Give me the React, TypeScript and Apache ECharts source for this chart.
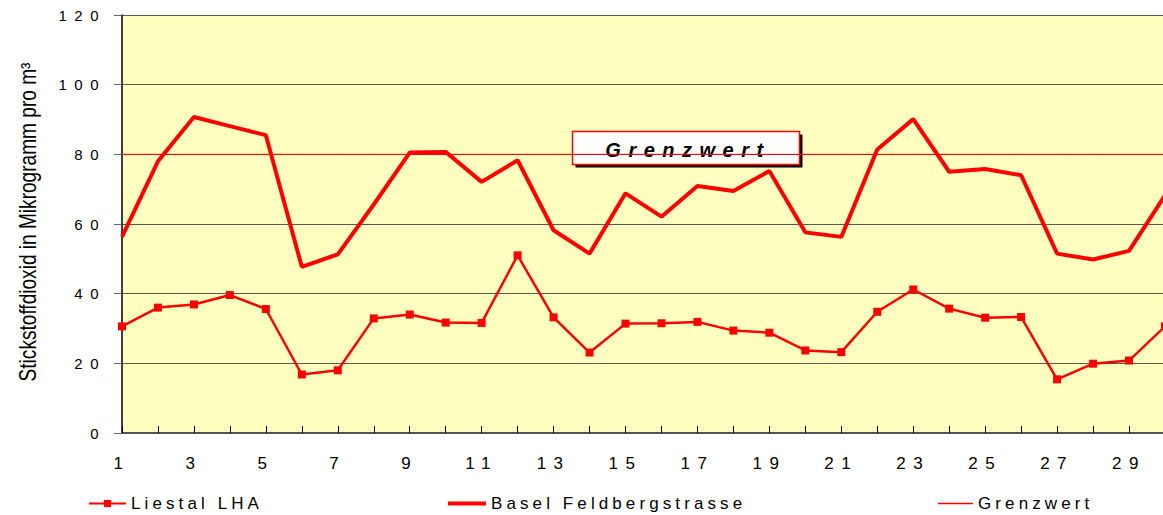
import React, { useEffect, useRef } from 'react';
import * as echarts from 'echarts';

const days = ['1', '2', '3', '4', '5', '6', '7', '8', '9', '10', '11', '12', '13', '14', '15', '16', '17', '18', '19', '20', '21', '22', '23', '24', '25', '26', '27', '28', '29', '30'];
const liestalLHA = [30.6, 36.0, 36.9, 39.6, 35.6, 16.8, 18.0, 32.9, 34.0, 31.7, 31.6, 51.0, 33.2, 23.1, 31.4, 31.5, 31.9, 29.4, 28.8, 23.7, 23.2, 34.8, 41.2, 35.7, 33.1, 33.3, 15.4, 19.9, 20.8, 30.6];
const baselFeldbergstrasse = [56.3, 78.0, 90.7, 88.1, 85.5, 47.7, 51.3, 65.6, 80.5, 80.7, 72.1, 78.3, 58.2, 51.5, 68.8, 62.1, 70.9, 69.5, 75.2, 57.6, 56.3, 81.4, 90.1, 75.0, 75.8, 74.0, 51.5, 49.8, 52.3, 68.2];
const grenzwert = [80, 80, 80, 80, 80, 80, 80, 80, 80, 80, 80, 80, 80, 80, 80, 80, 80, 80, 80, 80, 80, 80, 80, 80, 80, 80, 80, 80, 80, 80];
const seriesNames = ['Liestal LHA', 'Basel Feldbergstrasse', 'Grenzwert'];
const annotationText = 'Grenzwert';
const yAxisTitle = 'Stickstoffdioxid in Mikrogramm pro m³';
const yMin = 0;
const yMax = 120;
const yInterval = 20;

const FONT = '"Liberation Sans", Arial, sans-serif';
const RED = '#ff0000';

function applyLetterSpacing(root: HTMLElement) {
  root.querySelectorAll('text').forEach((t) => {
    const s = (t.textContent || '').trim();
    const style = t.getAttribute('style') || '';
    let ls = 0;
    if (/^\d+$/.test(s)) ls = 7.5;
    else if (s === annotationText && /bold/.test(style)) ls = 7.5;
    else if (seriesNames.includes(s)) ls = 4.1;
    if (ls) t.setAttribute('letter-spacing', String(ls));
  });
}

export default function App() {
  const ref = useRef<HTMLDivElement>(null);
  useEffect(() => {
    if (!ref.current) return;
    const chart = echarts.init(ref.current, undefined, { renderer: 'svg' });
    const legendBase = {
      top: 490,
      textStyle: { fontFamily: FONT, fontSize: 17, color: '#000' },
      selectedMode: false as const,
    };
    chart.setOption({
      animation: false,
      backgroundColor: '#ffffff',
      grid: {
        left: 122,
        right: 3,
        top: 15,
        bottom: 82,
        show: true,
        backgroundColor: '#ffffc0',
        borderWidth: 0,
      },
      legend: [
        { ...legendBase, data: [seriesNames[0]], left: 83, itemWidth: 37, itemHeight: 9 },
        { ...legendBase, data: [{ name: seriesNames[1], icon: 'rect' }], left: 443, itemWidth: 38, itemHeight: 4, itemStyle: { color: RED } },
        { ...legendBase, data: [{ name: seriesNames[2], icon: 'rect' }], left: 933, itemWidth: 35, itemHeight: 1.5, itemStyle: { color: RED, borderWidth: 0 } },
      ],
      xAxis: {
        type: 'category',
        data: days,
        boundaryGap: false,
        axisLine: { show: true, lineStyle: { color: '#555', width: 2 } },
        axisTick: { show: true, inside: true, length: 7, interval: 0, lineStyle: { color: '#000', width: 1 } },
        axisLabel: { interval: 1, margin: 22, fontFamily: FONT, fontSize: 17, color: '#000' },
        splitLine: { show: false },
      },
      yAxis: {
        type: 'value',
        min: yMin,
        max: yMax,
        interval: yInterval,
        axisLine: { show: true, lineStyle: { color: '#000', width: 1.5 } },
        axisTick: { show: true, inside: false, length: 8, lineStyle: { color: '#666', width: 1 } },
        axisLabel: { margin: 16, fontFamily: FONT, fontSize: 15, color: '#000', padding: [6, 0, 0, 0] },
        splitLine: { show: true, lineStyle: { color: '#5a5a50', width: 1 } },
      },
      series: [
        {
          name: seriesNames[2],
          type: 'line',
          data: grenzwert,
          symbol: 'none',
          color: RED,
          lineStyle: { color: RED, width: 1 },
          itemStyle: { color: RED },
          z: 2,
        },
        {
          name: seriesNames[1],
          type: 'line',
          data: baselFeldbergstrasse,
          symbol: 'none',
          color: RED,
          lineStyle: { color: RED, width: 4 },
          itemStyle: { color: RED },
          z: 3,
        },
        {
          name: seriesNames[0],
          type: 'line',
          data: liestalLHA,
          symbol: 'rect',
          symbolSize: 8,
          color: RED,
          lineStyle: { color: RED, width: 2.5 },
          itemStyle: { color: RED },
          z: 4,
        },
      ],
      graphic: [
        {
          type: 'text',
          x: 28,
          y: 222,
          rotation: Math.PI / 2,
          scaleX: 0.83,
          scaleY: 1,
          style: {
            text: yAxisTitle,
            fontFamily: FONT,
            fontSize: 23,
            fill: '#000',
            align: 'center',
            verticalAlign: 'middle',
          },
        },
        {
          type: 'group',
          z: 100,
          children: [
            { type: 'rect', shape: { x: 575.5, y: 134.5, width: 227, height: 33 }, style: { fill: '#000' } },
            { type: 'rect', shape: { x: 572.5, y: 131.5, width: 227, height: 33 }, style: { fill: '#fff', stroke: RED, lineWidth: 1.5 } },
            {
              type: 'text',
              x: 688,
              y: 150,
              style: {
                text: annotationText,
                fontFamily: FONT,
                fontSize: 20,
                fontWeight: 'bold',
                fontStyle: 'italic',
                fill: '#000',
                align: 'center',
                verticalAlign: 'middle',
              },
            },
          ],
        },
      ],
    });
    applyLetterSpacing(ref.current);
    return () => chart.dispose();
  }, []);
  return <div ref={ref} style={{ position: 'fixed', left: 0, top: 0, width: 1168, height: 515 }} />;
}
